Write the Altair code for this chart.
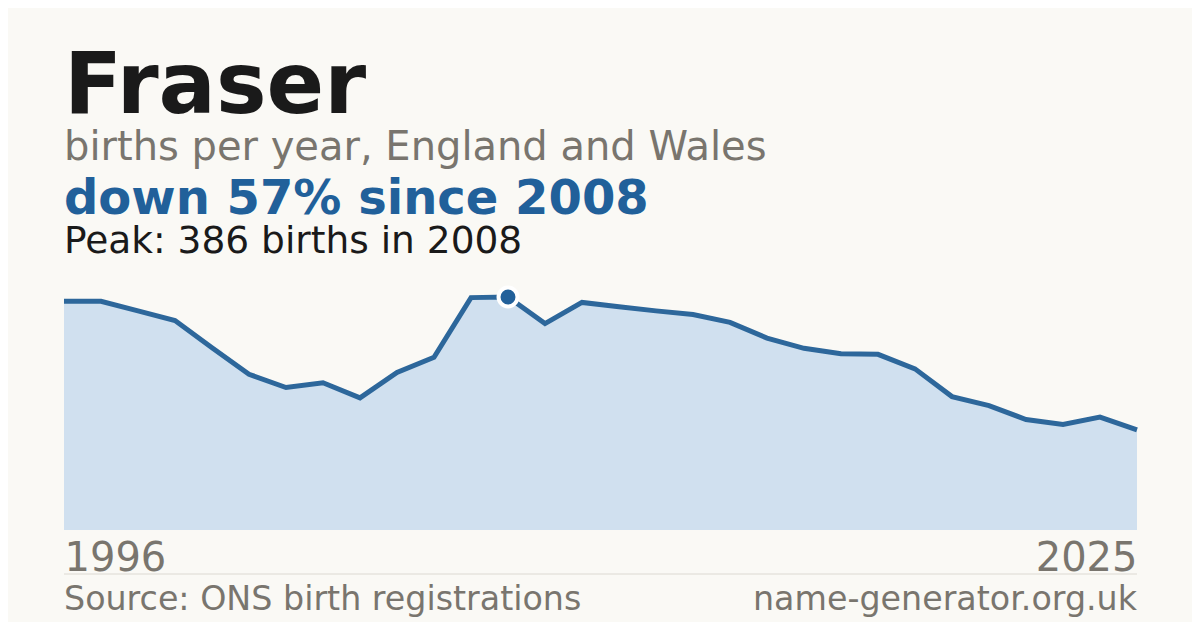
import altair as alt
import pandas as pd

# ---- data ----
years = list(range(1996, 2026))
births = [379, 379, 363, 347, 302, 258, 236, 244, 219, 261,
          286, 385, 386, 342, 377, 370, 363, 357, 344, 318,
          301, 292, 291, 267, 221, 206, 183, 175, 187, 166]
x_ticks = [1996, 2025]

name = "Fraser"
subtitle = "births per year, England and Wales"
source = "Source: ONS birth registrations"
site = "name-generator.org.uk"

df = pd.DataFrame({"year": years, "births": births})
peak = df.loc[df["births"].idxmax()]
peak_df = df[df["year"] == peak["year"]]
change = round((births[-1] - peak["births"]) / peak["births"] * 100)
headline = f"down {abs(change)}% since {int(peak['year'])}"
peak_text = f"Peak: {int(peak['births'])} births in {int(peak['year'])}"

# ---- styles ----
BG = "#faf9f5"
DARK = "#1a1a1a"
GRAY = "#79756e"
BLUE = "#21609a"
LINE = "#2d679b"
FILL = "#d0e0ef"
RULE = "#dcd9d2"
FONT = "DejaVu Sans"

W, H = 1073, 233
PAD = {"left": 56, "top": 289, "right": 55, "bottom": 92}

x = alt.X(
    "year:Q",
    scale=alt.Scale(domain=[years[0], years[-1]], nice=False, zero=False),
    axis=alt.Axis(
        values=x_ticks, format="d", labelFlush=True, labelFontSize=40,
        labelColor=GRAY, labelFont=FONT, domain=False, ticks=False,
        tickSize=0, grid=False, labelPadding=40, labelBaseline="alphabetic",
        title=None,
    ),
)
y = alt.Y(
    "births:Q",
    scale=alt.Scale(domain=[0, int(peak["births"])], nice=False, zero=True),
    axis=None,
)

base = alt.Chart(df)
area = base.mark_area(color=FILL, opacity=1).encode(x=x, y=y)
line = base.mark_line(color=LINE, strokeWidth=5).encode(x=x, y=y)
dot = alt.Chart(peak_df).mark_circle(
    size=360, fill=BLUE, stroke="white", strokeWidth=4, opacity=1
).encode(x=x, y=y)


def label(text, ypos, size, color, weight="normal", xpos=0, align="left"):
    return alt.Chart(pd.DataFrame({"t": [text]})).mark_text(
        font=FONT, fontSize=size, fontWeight=weight, color=color,
        align=align, baseline="alphabetic",
    ).encode(text="t:N", x=alt.value(xpos), y=alt.value(ypos))


t1 = label(name, -184, 85, DARK, "bold")
t2 = label(subtitle, -137, 40, GRAY)
t3 = label(headline, -83, 48, BLUE, "bold")
t4 = label(peak_text, -44, 37.5, DARK)

rule = alt.Chart(pd.DataFrame({"r": [0]})).mark_rule(
    color=RULE, strokeWidth=1
).encode(x=alt.value(0), x2=alt.value(W), y=alt.value(277))

f1 = label(source, 313, 33.3, GRAY)
f2 = label(site, 313, 33.3, GRAY, xpos=W, align="right")

chart = alt.layer(area, line, dot, t1, t2, t3, t4, rule, f1, f2).properties(
    width=W, height=H, padding=PAD,
    autosize=alt.AutoSizeParams(type="none"),
    background=BG,
).configure_view(strokeWidth=0)

chart.save("out.html", embed_options={"renderer": "svg", "actions": False})
